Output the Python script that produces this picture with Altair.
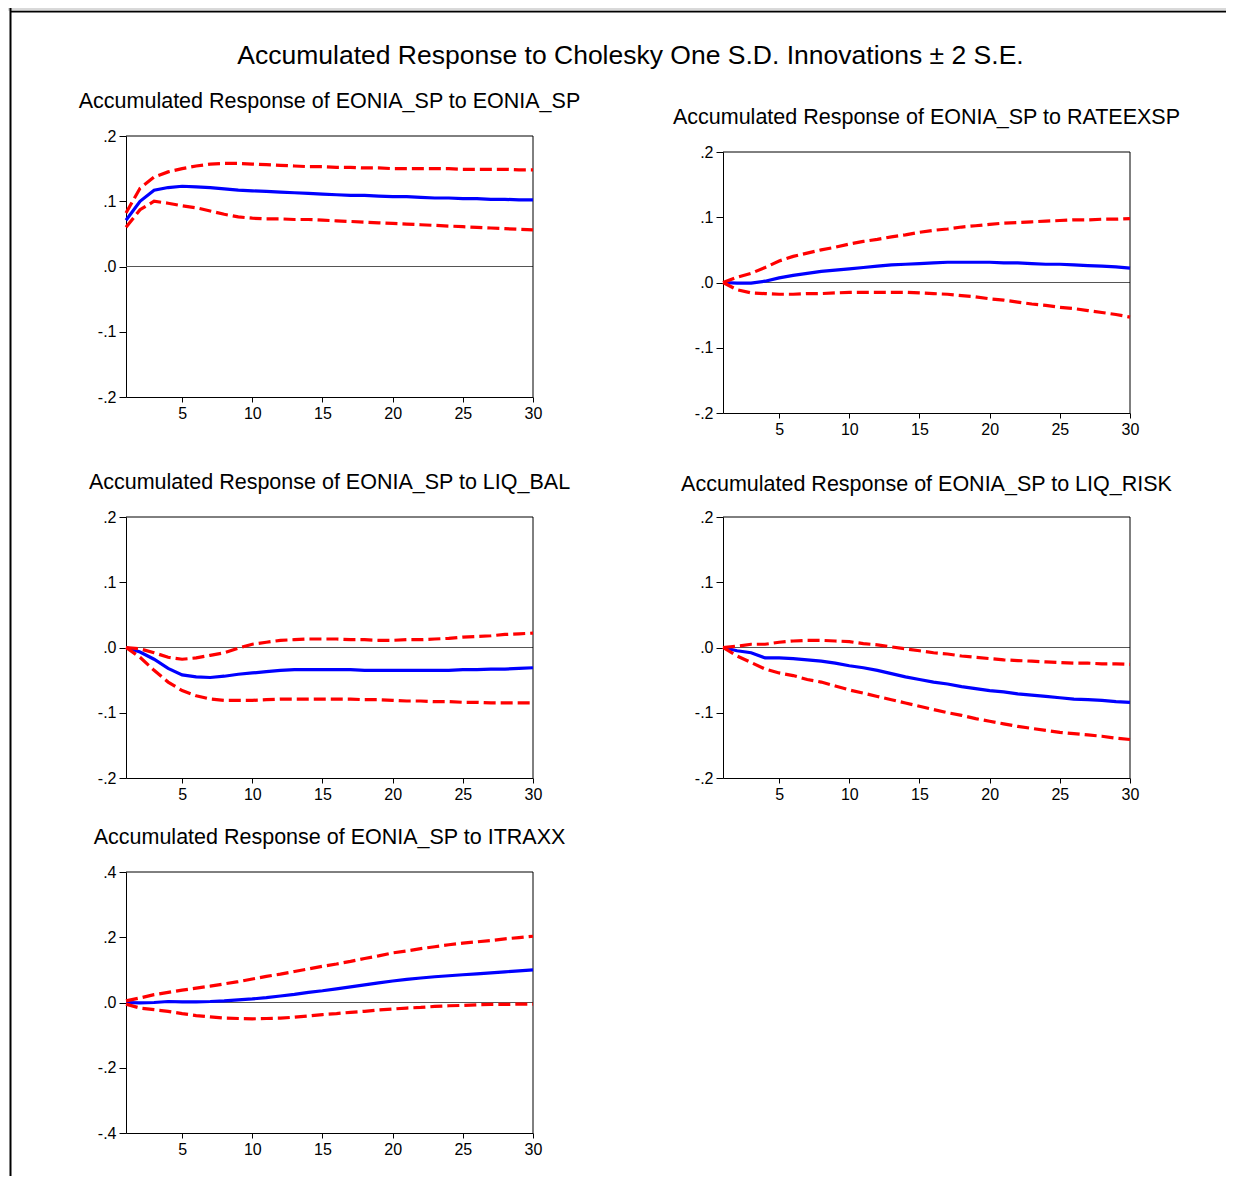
import altair as alt
import pandas as pd

# ---------------- data ----------------
steps = list(range(1, 31))

main_title = "Accumulated Response to Cholesky One S.D. Innovations \u00b1 2 S.E."
panel_titles = [
    "Accumulated Response of EONIA_SP to EONIA_SP",
    "Accumulated Response of EONIA_SP to RATEEXSP",
    "Accumulated Response of EONIA_SP to LIQ_BAL",
    "Accumulated Response of EONIA_SP to LIQ_RISK",
    "Accumulated Response of EONIA_SP to ITRAXX",
]

x_ticks = [5, 10, 15, 20, 25, 30]
y_ticks_a = [-0.2, -0.1, 0.0, 0.1, 0.2]
y_ticks_b = [-0.4, -0.2, 0.0, 0.2, 0.4]

# EONIA_SP -> EONIA_SP
eonia_resp = [0.071, 0.100, 0.117, 0.121, 0.123, 0.122, 0.121, 0.119, 0.117, 0.116,
              0.115, 0.114, 0.113, 0.112, 0.111, 0.110, 0.109, 0.109, 0.108, 0.107,
              0.107, 0.106, 0.105, 0.105, 0.104, 0.104, 0.103, 0.103, 0.102, 0.102]
eonia_upper = [0.082, 0.120, 0.137, 0.145, 0.150, 0.154, 0.157, 0.158, 0.158, 0.157,
               0.156, 0.155, 0.154, 0.153, 0.153, 0.152, 0.152, 0.151, 0.151, 0.150,
               0.150, 0.150, 0.150, 0.150, 0.149, 0.149, 0.149, 0.149, 0.148, 0.148]
eonia_lower = [0.060, 0.087, 0.100, 0.097, 0.093, 0.090, 0.085, 0.080, 0.076, 0.074,
               0.073, 0.073, 0.072, 0.072, 0.071, 0.070, 0.069, 0.068, 0.067, 0.066,
               0.065, 0.064, 0.063, 0.062, 0.061, 0.060, 0.059, 0.058, 0.057, 0.056]

# EONIA_SP -> RATEEXSP
rate_resp = [0.000, -0.001, -0.001, 0.002, 0.007, 0.011, 0.014, 0.017, 0.019, 0.021,
             0.023, 0.025, 0.027, 0.028, 0.029, 0.030, 0.031, 0.031, 0.031, 0.031,
             0.030, 0.030, 0.029, 0.028, 0.028, 0.027, 0.026, 0.025, 0.024, 0.022]
rate_upper = [0.000, 0.008, 0.014, 0.023, 0.033, 0.040, 0.045, 0.050, 0.054, 0.059,
              0.063, 0.066, 0.070, 0.073, 0.077, 0.080, 0.082, 0.085, 0.087, 0.089,
              0.091, 0.092, 0.093, 0.094, 0.095, 0.096, 0.096, 0.097, 0.097, 0.098]
rate_lower = [0.000, -0.011, -0.016, -0.017, -0.018, -0.018, -0.017, -0.017, -0.016, -0.015,
              -0.015, -0.015, -0.015, -0.015, -0.016, -0.017, -0.018, -0.020, -0.022, -0.025,
              -0.027, -0.030, -0.033, -0.035, -0.038, -0.040, -0.043, -0.046, -0.049, -0.053]

# EONIA_SP -> LIQ_BAL
bal_resp = [0.000, -0.007, -0.018, -0.032, -0.042, -0.045, -0.046, -0.044, -0.041, -0.039,
            -0.037, -0.035, -0.034, -0.034, -0.034, -0.034, -0.034, -0.035, -0.035, -0.035,
            -0.035, -0.035, -0.035, -0.035, -0.034, -0.034, -0.033, -0.033, -0.032, -0.031]
bal_upper = [0.000, -0.002, -0.008, -0.015, -0.018, -0.016, -0.012, -0.008, -0.001, 0.005,
             0.008, 0.011, 0.012, 0.013, 0.013, 0.013, 0.012, 0.012, 0.011, 0.011,
             0.012, 0.012, 0.013, 0.014, 0.016, 0.017, 0.018, 0.020, 0.021, 0.022]
bal_lower = [0.000, -0.015, -0.035, -0.053, -0.066, -0.074, -0.079, -0.081, -0.081, -0.081,
             -0.080, -0.079, -0.079, -0.079, -0.079, -0.079, -0.079, -0.080, -0.080, -0.081,
             -0.082, -0.082, -0.083, -0.083, -0.084, -0.084, -0.085, -0.085, -0.085, -0.085]

# EONIA_SP -> LIQ_RISK
risk_resp = [0.000, -0.005, -0.008, -0.016, -0.016, -0.017, -0.019, -0.021, -0.024, -0.028,
             -0.031, -0.035, -0.040, -0.045, -0.049, -0.053, -0.056, -0.060, -0.063, -0.066,
             -0.068, -0.071, -0.073, -0.075, -0.077, -0.079, -0.080, -0.081, -0.083, -0.084]
risk_upper = [0.000, 0.002, 0.005, 0.005, 0.008, 0.010, 0.011, 0.011, 0.010, 0.009,
              0.006, 0.004, 0.001, -0.002, -0.005, -0.008, -0.010, -0.013, -0.015, -0.017,
              -0.019, -0.020, -0.021, -0.022, -0.023, -0.024, -0.024, -0.025, -0.025, -0.026]
risk_lower = [0.000, -0.013, -0.023, -0.033, -0.039, -0.043, -0.049, -0.053, -0.059, -0.065,
              -0.070, -0.075, -0.080, -0.085, -0.090, -0.095, -0.100, -0.104, -0.109, -0.113,
              -0.117, -0.121, -0.124, -0.127, -0.130, -0.132, -0.134, -0.136, -0.139, -0.141]

# EONIA_SP -> ITRAXX
itr_resp = [0.000, -0.001, 0.000, 0.003, 0.002, 0.002, 0.003, 0.005, 0.008, 0.011,
            0.015, 0.020, 0.025, 0.031, 0.036, 0.042, 0.048, 0.054, 0.060, 0.066,
            0.071, 0.075, 0.079, 0.082, 0.085, 0.088, 0.091, 0.094, 0.097, 0.100]
itr_upper = [0.005, 0.014, 0.024, 0.031, 0.038, 0.044, 0.050, 0.057, 0.064, 0.072,
             0.080, 0.087, 0.095, 0.103, 0.111, 0.118, 0.126, 0.135, 0.143, 0.152,
             0.158, 0.165, 0.171, 0.177, 0.182, 0.186, 0.190, 0.195, 0.199, 0.203]
itr_lower = [-0.005, -0.017, -0.022, -0.027, -0.034, -0.040, -0.044, -0.048, -0.049, -0.050,
             -0.049, -0.048, -0.045, -0.041, -0.037, -0.034, -0.030, -0.027, -0.023, -0.020,
             -0.017, -0.015, -0.012, -0.010, -0.009, -0.007, -0.006, -0.006, -0.005, -0.005]

# ---------------- style ----------------
FONT = "Liberation Sans"
PLOT_W = 407
PLOT_H = 261
LABEL_EXPR = ("replace(replace(format(datum.value, '.1f'), '0.', '.'), '\u2212', '-')")


def panel(resp, upper, lower, title, yticks, pad, title_offset):
    n = len(steps)
    df = pd.DataFrame({
        "step": steps * 3,
        "value": resp + upper + lower,
        "series": ["resp"] * n + ["upper"] * n + ["lower"] * n,
    })
    one = pd.DataFrame({"k": [0]})
    ymin, ymax = yticks[0], yticks[-1]
    H = PLOT_H + pad
    xscale = alt.Scale(domain=[steps[0], steps[-1]], nice=False, zero=False)
    yscale = alt.Scale(domain=[ymin, ymax], range=[H, pad], nice=False, zero=False)
    xaxis = alt.Axis(values=x_ticks, format="d", title=None, grid=False,
                     labelFont=FONT, labelFontSize=16, labelColor="black",
                     labelFlush=False, labelOverlap=False, labelPadding=3,
                     tickSize=5, tickColor="black", tickWidth=1,
                     domainColor="black", domainWidth=1)
    yaxis = alt.Axis(values=yticks, title=None, grid=False,
                     labelExpr=LABEL_EXPR,
                     labelFont=FONT, labelFontSize=16, labelColor="black",
                     labelOverlap=False, labelPadding=3,
                     tickSize=7, tickColor="black", tickWidth=1,
                     domainColor="black", domainWidth=1)

    zero = alt.Chart(one).mark_rule(color="#555555", strokeWidth=1).encode(
        y=alt.YDatum(0, type="quantitative", scale=yscale, axis=yaxis))
    top = alt.Chart(one).mark_rule(color="black", strokeWidth=1).encode(
        y=alt.YDatum(ymax, type="quantitative", scale=yscale, axis=yaxis))
    right = alt.Chart(one).mark_rule(color="black", strokeWidth=1).encode(
        x=alt.XDatum(steps[-1], type="quantitative", scale=xscale, axis=xaxis),
        y=alt.YDatum(ymin, type="quantitative", scale=yscale, axis=yaxis),
        y2=alt.datum(ymax))
    resp_line = alt.Chart(df).transform_filter("datum.series == 'resp'").mark_line(
        color="#0000ff", strokeWidth=3.2).encode(
        x=alt.X("step:Q", scale=xscale, axis=xaxis),
        y=alt.Y("value:Q", scale=yscale, axis=yaxis))
    band_line = alt.Chart(df).transform_filter("datum.series != 'resp'").mark_line(
        color="#ff0000", strokeWidth=3.2, strokeDash=[12, 5]).encode(
        x=alt.X("step:Q", scale=xscale, axis=xaxis),
        y=alt.Y("value:Q", scale=yscale, axis=yaxis),
        detail="series:N")

    return alt.layer(zero, top, right, resp_line, band_line).properties(
        width=PLOT_W, height=H,
        title=alt.TitleParams(text=title, font=FONT, fontSize=21.5, fontWeight="normal",
                              color="black", anchor="middle", frame="group",
                              baseline="alphabetic", offset=title_offset, dy=21.5))


p1 = panel(eonia_resp, eonia_upper, eonia_lower, panel_titles[0], y_ticks_a, 10, 17.7)
p2 = panel(rate_resp, rate_upper, rate_lower, panel_titles[1], y_ticks_a, 26, 1.7)
p3 = panel(bal_resp, bal_upper, bal_lower, panel_titles[2], y_ticks_a, 20, 7.7)
p4 = panel(risk_resp, risk_upper, risk_lower, panel_titles[3], y_ticks_a, 20, 6.2)
p5 = panel(itr_resp, itr_upper, itr_lower, panel_titles[4], y_ticks_b, 10, 17.7)

# frame cell (window frame + overall title), sits in the empty bottom-right grid slot
one = pd.DataFrame({"k": [0]})
fr = alt.Chart(one)
gray_band = fr.mark_rect(color="#d9d9d9").encode(
    x=alt.value(-715), x2=alt.value(503), y=alt.value(-854), y2=alt.value(-851.3))
top_line = fr.mark_rect(color="black").encode(
    x=alt.value(-713), x2=alt.value(503), y=alt.value(-851.3), y2=alt.value(-849.5))
left_line = fr.mark_rect(color="black").encode(
    x=alt.value(-713.5), x2=alt.value(-711.5), y=alt.value(-854), y2=alt.value(314))
title_text = fr.mark_text(text=main_title, font=FONT, fontSize=26.5, align="center",
                          baseline="alphabetic", color="black").encode(
    x=alt.value(-92.5), y=alt.value(-798))
frame = alt.layer(gray_band, top_line, left_line, title_text).properties(width=PLOT_W, height=PLOT_H)

chart = alt.concat(
    p1, p2, p3, p4, p5, frame,
    columns=2,
    spacing=alt.RowColnumber(row=84, column=190),
    bounds="flush",
    align="each",
).properties(padding=0).configure_view(stroke=None)

chart.save("out.html", embed_options={"renderer": "svg", "actions": False})
